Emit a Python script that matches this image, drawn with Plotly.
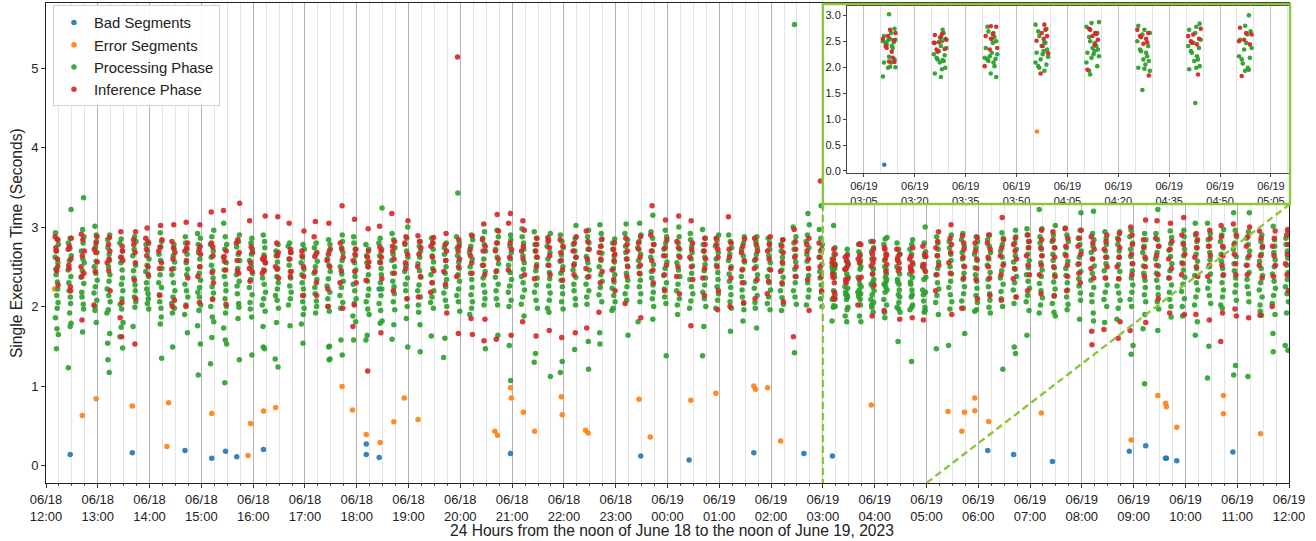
import plotly.graph_objects as go
import pandas as pd

# ---------------- data ----------------
SLOT_START = "2023-06-18 12:12:30"   # centre of the first 15-minute batch
SLOT_MINUTES = 15
# spread of each batch around its centre, in minutes (cycled)
JITTER_MIN = [-1.6, 0.7, -0.4, 1.5, -1.1, 0.2, 1.0, -1.9, 0.5, -0.8, 1.8, -0.1, 1.3]

# Processing phase times (s), one list per 15-minute batch (96 batches)
PROCESSING = [
    [2.93, 2.85, 2.78, 2.7, 2.62, 2.55, 2.47, 2.4, 2.31, 2.22, 2.14, 2.05, 1.98, 1.86, 1.72, 1.65, 1.47],
    [3.22, 2.86, 2.8, 2.73, 2.64, 2.58, 2.46, 2.38, 2.3, 2.2, 2.12, 2.04, 1.92, 1.79, 1.75, 1.23],
    [3.37, 2.97, 2.88, 2.8, 2.7, 2.6, 2.55, 2.45, 2.37, 2.29, 2.18, 2.12, 2.03, 1.97, 1.68],
    [3.01, 2.9, 2.82, 2.75, 2.68, 2.57, 2.5, 2.42, 2.33, 2.25, 2.17, 2.08, 2.0, 1.95, 1.8],
    [2.9, 2.84, 2.74, 2.66, 2.58, 2.5, 2.4, 2.32, 2.22, 2.14, 2.06, 1.96, 1.92, 1.66, 1.54, 1.33, 1.17],
    [2.85, 2.8, 2.7, 2.62, 2.55, 2.46, 2.36, 2.28, 2.2, 2.1, 2.03, 1.97, 1.8, 1.74, 1.62, 1.48],
    [2.88, 2.82, 2.72, 2.64, 2.52, 2.45, 2.36, 2.27, 2.2, 2.12, 2.06, 1.99, 1.75],
    [2.82, 2.78, 2.7, 2.6, 2.52, 2.44, 2.38, 2.3, 2.22, 2.16, 2.1, 2.04, 1.97],
    [2.93, 2.82, 2.75, 2.66, 2.58, 2.48, 2.4, 2.3, 2.24, 2.15, 2.06, 1.98, 1.87, 1.78, 1.35],
    [2.78, 2.72, 2.64, 2.56, 2.48, 2.4, 2.3, 2.2, 2.12, 2.04, 1.98, 1.92, 1.49],
    [2.88, 2.8, 2.72, 2.66, 2.55, 2.47, 2.4, 2.28, 2.2, 2.12, 2.02, 1.9, 1.67],
    [2.92, 2.86, 2.78, 2.68, 2.6, 2.5, 2.42, 2.33, 2.24, 2.18, 2.12, 2.02, 1.95, 1.76, 1.53, 1.14],
    [2.96, 2.88, 2.78, 2.7, 2.62, 2.52, 2.45, 2.36, 2.25, 2.17, 2.1, 2.0, 1.87, 1.81, 1.61, 1.28],
    [3.05, 2.88, 2.78, 2.72, 2.62, 2.55, 2.46, 2.38, 2.28, 2.2, 2.1, 2.0, 1.92, 1.73, 1.58, 1.53, 1.04],
    [2.9, 2.82, 2.75, 2.66, 2.58, 2.48, 2.4, 2.32, 2.26, 2.16, 2.04, 1.99, 1.85, 1.33],
    [2.86, 2.8, 2.72, 2.66, 2.58, 2.5, 2.42, 2.34, 2.24, 2.15, 2.05, 1.97, 1.87, 1.39],
    [2.9, 2.82, 2.74, 2.65, 2.55, 2.45, 2.36, 2.28, 2.18, 2.1, 2.02, 1.94, 1.75, 1.49, 1.47],
    [2.78, 2.7, 2.64, 2.56, 2.48, 2.38, 2.3, 2.22, 2.14, 2.08, 1.98, 1.8, 1.34, 1.24],
    [2.8, 2.76, 2.68, 2.6, 2.52, 2.44, 2.36, 2.26, 2.18, 2.1, 2.02, 1.76],
    [2.78, 2.72, 2.62, 2.55, 2.47, 2.4, 2.3, 2.22, 2.14, 2.06, 1.98, 1.9, 1.78, 1.54],
    [2.8, 2.74, 2.66, 2.57, 2.5, 2.42, 2.34, 2.24, 2.16, 2.07, 2.0, 1.92],
    [2.84, 2.78, 2.7, 2.6, 2.52, 2.44, 2.35, 2.26, 2.18, 2.1, 2.0, 1.94, 1.5, 1.49, 1.34, 1.33],
    [2.9, 2.82, 2.74, 2.68, 2.58, 2.5, 2.41, 2.32, 2.24, 2.14, 2.05, 1.98, 1.58, 1.39],
    [2.88, 2.8, 2.72, 2.64, 2.55, 2.46, 2.38, 2.28, 2.2, 2.1, 2.04, 1.88, 1.81, 1.58],
    [2.78, 2.72, 2.64, 2.55, 2.5, 2.4, 2.32, 2.22, 2.14, 2.06, 1.97, 1.9, 1.64, 1.58],
    [3.24, 2.86, 2.8, 2.72, 2.64, 2.56, 2.48, 2.4, 2.3, 2.22, 2.14, 2.04, 1.95, 1.82, 1.79],
    [2.92, 2.84, 2.74, 2.66, 2.58, 2.5, 2.42, 2.32, 2.25, 2.16, 2.06, 1.96, 1.77, 1.59],
    [3.0, 2.86, 2.78, 2.7, 2.62, 2.52, 2.44, 2.36, 2.28, 2.2, 2.1, 2.0, 1.85, 1.49],
    [2.82, 2.76, 2.7, 2.62, 2.54, 2.45, 2.37, 2.27, 2.2, 2.12, 2.02, 1.93, 1.77, 1.43],
    [2.86, 2.8, 2.72, 2.64, 2.56, 2.48, 2.4, 2.3, 2.2, 2.12, 2.05, 1.98, 1.63],
    [2.8, 2.74, 2.66, 2.58, 2.5, 2.42, 2.34, 2.25, 2.17, 2.08, 2.0, 1.6, 1.36],
    [3.43, 2.88, 2.8, 2.74, 2.64, 2.56, 2.48, 2.4, 2.32, 2.22, 2.14, 2.06, 1.94],
    [2.9, 2.84, 2.76, 2.68, 2.6, 2.5, 2.42, 2.34, 2.24, 2.15, 2.06, 1.98, 1.9],
    [2.94, 2.86, 2.78, 2.7, 2.6, 2.52, 2.44, 2.36, 2.27, 2.18, 2.1, 2.02, 1.47],
    [2.96, 2.88, 2.8, 2.72, 2.62, 2.54, 2.45, 2.37, 2.28, 2.2, 2.1, 2.02, 1.64],
    [2.9, 2.84, 2.76, 2.68, 2.6, 2.52, 2.43, 2.34, 2.26, 2.18, 2.08, 2.0, 1.51, 1.07],
    [2.98, 2.88, 2.8, 2.72, 2.64, 2.55, 2.47, 2.38, 2.3, 2.21, 2.12, 2.03, 1.88],
    [2.94, 2.86, 2.78, 2.7, 2.62, 2.53, 2.45, 2.36, 2.27, 2.18, 2.08, 1.98, 1.41, 1.3],
    [2.92, 2.84, 2.76, 2.68, 2.6, 2.52, 2.43, 2.35, 2.26, 2.17, 2.08, 1.98, 1.93, 1.12],
    [2.9, 2.82, 2.74, 2.65, 2.57, 2.5, 2.42, 2.33, 2.25, 2.16, 2.06, 1.97, 1.31, 1.17],
    [3.02, 2.86, 2.78, 2.7, 2.62, 2.54, 2.46, 2.37, 2.28, 2.2, 2.1, 2.02, 1.46],
    [2.96, 2.88, 2.8, 2.72, 2.63, 2.55, 2.46, 2.37, 2.28, 2.2, 2.12, 2.03, 1.56, 1.21],
    [3.03, 2.92, 2.84, 2.76, 2.67, 2.58, 2.5, 2.4, 2.32, 2.24, 2.15, 2.06, 1.67, 1.53],
    [2.85, 2.8, 2.72, 2.64, 2.56, 2.48, 2.4, 2.31, 2.23, 2.14, 2.06, 1.98, 1.95],
    [3.04, 2.92, 2.84, 2.76, 2.68, 2.6, 2.51, 2.42, 2.33, 2.25, 2.16, 2.08, 1.64],
    [3.05, 2.9, 2.82, 2.74, 2.66, 2.58, 2.5, 2.41, 2.33, 2.25, 2.16, 2.06, 1.81],
    [3.15, 2.94, 2.86, 2.78, 2.7, 2.62, 2.53, 2.44, 2.36, 2.27, 2.18, 2.1, 2.0, 1.84],
    [2.96, 2.88, 2.8, 2.72, 2.64, 2.56, 2.48, 2.39, 2.3, 2.22, 2.12, 2.04, 1.38],
    [3.0, 2.88, 2.8, 2.72, 2.64, 2.55, 2.46, 2.38, 2.28, 2.2, 2.1, 2.02, 1.9],
    [2.92, 2.84, 2.76, 2.68, 2.6, 2.51, 2.42, 2.34, 2.25, 2.16, 2.07, 1.98],
    [2.97, 2.86, 2.78, 2.7, 2.62, 2.53, 2.45, 2.36, 2.27, 2.18, 2.1, 2.0, 1.75, 1.38],
    [2.9, 2.84, 2.76, 2.68, 2.6, 2.52, 2.43, 2.34, 2.25, 2.16, 2.08, 1.98],
    [2.9, 2.82, 2.74, 2.66, 2.58, 2.5, 2.41, 2.32, 2.24, 2.15, 2.06, 1.98, 1.69],
    [2.88, 2.8, 2.72, 2.64, 2.56, 2.47, 2.38, 2.3, 2.21, 2.12, 2.04, 1.96, 1.82],
    [2.88, 2.82, 2.74, 2.66, 2.58, 2.5, 2.4, 2.32, 2.23, 2.14, 2.05, 1.98, 1.73],
    [2.86, 2.8, 2.72, 2.64, 2.55, 2.47, 2.38, 2.3, 2.21, 2.12, 2.04, 1.96],
    [2.84, 2.78, 2.7, 2.62, 2.54, 2.46, 2.37, 2.28, 2.2, 2.11, 2.03, 1.95],
    [5.55, 3.0, 2.88, 2.8, 2.72, 2.64, 2.56, 2.47, 2.38, 2.3, 2.2, 2.12, 2.03, 1.42],
    [3.17, 3.03, 2.9, 2.82, 2.74, 2.66, 2.57, 2.48, 2.39, 2.3, 2.21, 2.12, 2.02],
    [3.27, 2.97, 2.86, 2.78, 2.7, 2.62, 2.53, 2.44, 2.36, 2.27, 2.18, 2.1, 2.0],
    [3.02, 2.74, 2.66, 2.6, 2.55, 2.53, 2.52, 2.5, 2.48, 2.47, 2.44, 2.41, 2.37, 2.2, 2.15, 2.09, 2.09, 2.01, 2.0, 1.99, 1.82],
    [2.72, 2.66, 2.57, 2.55, 2.5, 2.47, 2.41, 2.37, 2.31, 2.25, 2.23, 2.18, 2.15, 2.14, 2.12, 2.09, 1.99, 1.96, 1.88, 1.81],
    [2.78, 2.69, 2.66, 2.58, 2.55, 2.5, 2.47, 2.37, 2.28, 2.25, 2.21, 2.18, 2.16, 2.15, 2.12, 2.09, 2.02, 1.88, 1.81],
    [2.82, 2.74, 2.69, 2.6, 2.48, 2.47, 2.41, 2.34, 2.31, 2.28, 2.25, 2.2, 2.15, 2.09, 2.05, 2.02, 1.99, 1.93],
    [2.87, 2.85, 2.78, 2.66, 2.58, 2.5, 2.47, 2.41, 2.37, 2.34, 2.31, 2.28, 2.25, 2.21, 2.18, 2.09, 2.02, 1.93, 1.86],
    [2.8, 2.72, 2.66, 2.63, 2.5, 2.41, 2.34, 2.31, 2.28, 2.21, 2.15, 2.12, 2.05, 1.99, 1.97, 1.93, 1.56],
    [2.84, 2.78, 2.72, 2.66, 2.53, 2.47, 2.41, 2.37, 2.31, 2.28, 2.21, 2.15, 2.12, 2.02, 1.99, 1.96, 1.31],
    [3.0, 2.8, 2.69, 2.63, 2.53, 2.47, 2.37, 2.34, 2.21, 2.18, 2.15, 2.07, 1.99, 1.95, 1.93],
    [2.88, 2.8, 2.72, 2.64, 2.56, 2.48, 2.4, 2.3, 2.22, 2.14, 2.05, 1.9, 1.47],
    [2.9, 2.82, 2.74, 2.66, 2.58, 2.5, 2.41, 2.32, 2.24, 2.15, 2.06, 1.97, 1.51],
    [2.92, 2.84, 2.76, 2.68, 2.6, 2.51, 2.42, 2.34, 2.25, 2.16, 2.07, 1.98, 1.66],
    [2.88, 2.82, 2.74, 2.66, 2.58, 2.49, 2.4, 2.32, 2.23, 2.14, 2.05, 1.96, 1.94],
    [2.9, 2.84, 2.76, 2.68, 2.6, 2.52, 2.43, 2.34, 2.25, 2.16, 2.08, 1.99, 1.92],
    [2.93, 2.86, 2.78, 2.7, 2.62, 2.54, 2.45, 2.36, 2.28, 2.19, 2.1, 2.0, 1.21],
    [2.96, 2.88, 2.8, 2.72, 2.64, 2.56, 2.47, 2.38, 2.3, 2.21, 2.12, 2.04, 1.49, 1.41],
    [2.98, 2.9, 2.82, 2.74, 2.66, 2.58, 2.49, 2.4, 2.32, 2.23, 2.14, 2.06, 1.95, 1.64],
    [3.22, 2.98, 2.88, 2.8, 2.72, 2.64, 2.55, 2.46, 2.38, 2.29, 2.2, 2.11, 2.02, 1.92],
    [3.02, 2.9, 2.82, 2.74, 2.66, 2.58, 2.49, 2.4, 2.31, 2.22, 2.13, 2.04, 1.93, 1.88],
    [2.99, 2.9, 2.82, 2.74, 2.66, 2.57, 2.48, 2.39, 2.3, 2.21, 2.12, 2.03, 1.96],
    [3.18, 2.96, 2.86, 2.78, 2.7, 2.62, 2.53, 2.44, 2.35, 2.26, 2.17, 2.08, 1.84],
    [3.2, 2.92, 2.84, 2.76, 2.68, 2.6, 2.51, 2.42, 2.33, 2.24, 2.15, 2.06, 1.92, 1.82],
    [2.94, 2.86, 2.78, 2.7, 2.62, 2.54, 2.45, 2.36, 2.27, 2.18, 2.09, 2.0, 1.8],
    [2.94, 2.86, 2.78, 2.7, 2.62, 2.53, 2.44, 2.35, 2.26, 2.17, 2.08, 1.98, 1.84],
    [2.96, 2.88, 2.8, 2.72, 2.63, 2.54, 2.45, 2.36, 2.27, 2.18, 2.09, 2.0, 1.51, 1.4],
    [2.92, 2.84, 2.76, 2.68, 2.6, 2.51, 2.42, 2.33, 2.24, 2.15, 2.06, 1.9, 1.72, 1.03],
    [3.22, 2.92, 2.84, 2.76, 2.68, 2.6, 2.51, 2.42, 2.33, 2.24, 2.15, 2.06, 1.97, 1.7],
    [2.95, 2.87, 2.79, 2.71, 2.63, 2.54, 2.45, 2.36, 2.27, 2.18, 2.09, 2.0, 1.87],
    [2.96, 2.88, 2.8, 2.72, 2.64, 2.55, 2.46, 2.37, 2.28, 2.19, 2.1, 2.0, 1.88],
    [3.05, 2.9, 2.82, 2.74, 2.66, 2.57, 2.48, 2.39, 2.3, 2.21, 2.12, 2.02, 1.81, 1.64],
    [3.05, 2.92, 2.84, 2.76, 2.68, 2.59, 2.5, 2.41, 2.32, 2.23, 2.14, 2.04, 1.5, 1.1],
    [2.97, 2.9, 2.82, 2.74, 2.66, 2.57, 2.48, 2.39, 2.3, 2.21, 2.12, 2.02, 1.98],
    [3.18, 2.96, 2.88, 2.8, 2.72, 2.63, 2.54, 2.45, 2.36, 2.27, 2.18, 2.08, 1.26, 1.14],
    [3.18, 2.94, 2.86, 2.78, 2.7, 2.61, 2.52, 2.43, 2.34, 2.25, 2.16, 2.06, 1.12],
    [2.9, 2.82, 2.74, 2.66, 2.57, 2.48, 2.39, 2.3, 2.21, 2.12, 2.02, 1.94, 1.89],
    [3.01, 2.84, 2.76, 2.68, 2.59, 2.5, 2.41, 2.32, 2.23, 2.14, 2.04, 1.9, 1.66, 1.43],
    [2.94, 2.86, 2.78, 2.7, 2.61, 2.52, 2.43, 2.34, 2.25, 2.16, 2.06, 1.92, 1.51, 1.45],
]

# Inference phase times (s), one list per 15-minute batch (96 batches)
INFERENCE = [
    [2.88, 2.84, 2.74, 2.7, 2.6, 2.5, 2.45, 2.27],
    [2.86, 2.76, 2.72, 2.6, 2.52, 2.48, 2.25, 2.2],
    [2.91, 2.84, 2.7, 2.64, 2.5, 2.42, 2.38, 1.83],
    [2.88, 2.8, 2.72, 2.68, 2.56, 2.44, 2.02],
    [2.87, 2.78, 2.7, 2.6, 2.55, 2.45, 2.2],
    [2.94, 2.76, 2.7, 2.62, 2.58, 2.05, 1.86, 1.62],
    [2.94, 2.84, 2.78, 2.68, 2.55, 2.33, 2.1, 1.53],
    [2.99, 2.86, 2.8, 2.72, 2.64, 2.5, 2.4],
    [3.02, 2.84, 2.75, 2.7, 2.55, 2.48, 2.14],
    [3.03, 2.82, 2.74, 2.68, 2.6, 2.47, 2.08, 2.0],
    [3.06, 2.8, 2.74, 2.7, 2.58, 2.36, 2.0],
    [3.03, 2.76, 2.72, 2.66, 2.5, 2.38, 2.05],
    [3.19, 2.8, 2.75, 2.64, 2.43, 2.3, 2.09],
    [3.21, 2.7, 2.63, 2.57, 2.46, 2.03],
    [3.3, 2.84, 2.8, 2.68, 2.58, 2.45, 2.42],
    [3.08, 2.75, 2.68, 2.55, 2.48, 2.44, 2.32],
    [3.14, 2.62, 2.6, 2.58, 2.55, 2.46, 2.42],
    [3.13, 2.8, 2.68, 2.64, 2.5, 2.47, 2.36],
    [3.05, 2.72, 2.68, 2.6, 2.44, 2.38],
    [2.95, 2.7, 2.64, 2.5, 2.38, 2.14],
    [3.07, 2.88, 2.68, 2.63, 2.44, 2.3, 2.14],
    [3.05, 2.72, 2.66, 2.58, 2.5, 2.22, 2.0],
    [3.27, 2.8, 2.72, 2.62, 2.45, 2.3, 1.98],
    [3.1, 2.72, 2.66, 2.58, 2.44, 2.3, 2.02, 1.75],
    [2.98, 2.7, 2.62, 2.56, 2.5, 2.33, 1.19],
    [3.01, 2.75, 2.7, 2.62, 2.55, 2.35, 1.67],
    [3.17, 2.82, 2.76, 2.7, 2.6, 2.42, 2.2],
    [3.08, 2.88, 2.8, 2.66, 2.55, 2.48, 2.1],
    [2.89, 2.82, 2.74, 2.66, 2.5, 2.38, 2.12],
    [2.87, 2.8, 2.76, 2.62, 2.45, 2.3, 2.18],
    [2.92, 2.78, 2.7, 2.58, 2.44, 2.28, 1.92],
    [5.14, 2.84, 2.76, 2.7, 2.6, 2.5, 2.38, 1.66],
    [2.89, 2.72, 2.64, 2.55, 2.42, 1.85, 1.65],
    [3.04, 2.84, 2.76, 2.7, 2.52, 2.4, 1.84, 1.57],
    [3.16, 2.95, 2.8, 2.7, 2.6, 2.44, 1.59],
    [3.17, 3.05, 2.8, 2.72, 2.62, 2.46, 1.64],
    [3.08, 2.96, 2.76, 2.7, 2.6, 2.4, 1.81],
    [2.86, 2.78, 2.7, 2.62, 2.5, 2.35, 1.63],
    [2.87, 2.82, 2.74, 2.64, 2.52, 2.4, 1.7],
    [2.84, 2.76, 2.68, 2.58, 2.46, 2.33, 1.61],
    [2.88, 2.8, 2.7, 2.62, 2.52, 2.4, 1.67],
    [2.95, 2.82, 2.72, 2.6, 2.48, 2.38, 1.73],
    [2.85, 2.76, 2.68, 2.6, 2.44, 2.3, 1.93],
    [2.8, 2.72, 2.66, 2.58, 2.46, 2.34, 2.2],
    [2.86, 2.78, 2.7, 2.6, 2.5, 2.38, 2.04],
    [2.88, 2.8, 2.72, 2.62, 2.52, 2.42, 1.86],
    [3.27, 2.9, 2.78, 2.7, 2.58, 2.46, 2.3],
    [3.09, 2.84, 2.74, 2.64, 2.52, 2.4, 2.2],
    [3.14, 2.82, 2.74, 2.62, 2.5, 2.38, 2.16],
    [3.08, 2.8, 2.72, 2.62, 2.5, 2.34, 1.76],
    [2.86, 2.78, 2.7, 2.6, 2.48, 2.36, 2.14],
    [2.86, 2.78, 2.72, 2.62, 2.5, 2.2, 1.96],
    [3.13, 2.8, 2.72, 2.62, 2.48, 2.36, 2.0],
    [2.85, 2.76, 2.68, 2.58, 2.46, 2.3, 2.05],
    [2.86, 2.78, 2.7, 2.6, 2.48, 2.34, 2.1],
    [2.88, 2.78, 2.7, 2.6, 2.46, 2.32, 2.16],
    [2.84, 2.76, 2.68, 2.56, 2.44, 2.3, 2.06],
    [2.97, 2.82, 2.72, 2.62, 2.5, 2.38, 1.62],
    [2.86, 2.78, 2.7, 2.6, 2.48, 2.34, 1.95],
    [3.58, 2.8, 2.72, 2.62, 2.5, 2.38, 2.2],
    [2.72, 2.66, 2.6, 2.55, 2.52, 2.41, 2.37, 2.3, 2.18, 2.11, 2.1],
    [2.64, 2.62, 2.58, 2.53, 2.48, 2.47, 2.35, 2.34, 2.3],
    [2.79, 2.78, 2.64, 2.6, 2.55, 2.37, 2.34, 2.02],
    [2.82, 2.72, 2.66, 2.6, 2.55, 2.51, 2.41, 2.27, 1.88],
    [2.74, 2.72, 2.66, 2.64, 2.6, 2.53, 2.44, 1.95],
    [2.72, 2.66, 2.6, 2.58, 2.55, 2.48, 2.45, 1.84],
    [2.74, 2.63, 2.6, 2.55, 2.5, 2.47, 2.44, 1.86],
    [2.76, 2.66, 2.63, 2.53, 2.5, 2.44, 1.83],
    [2.94, 2.82, 2.74, 2.64, 2.52, 2.4, 2.2],
    [3.03, 2.86, 2.78, 2.68, 2.55, 2.42, 1.9],
    [2.89, 2.8, 2.72, 2.62, 2.5, 2.36, 1.98],
    [2.87, 2.8, 2.7, 2.6, 2.48, 2.34, 2.1],
    [2.9, 2.8, 2.72, 2.62, 2.5, 2.36, 2.14],
    [3.12, 2.84, 2.74, 2.64, 2.52, 2.4, 2.08],
    [2.86, 2.78, 2.7, 2.6, 2.48, 2.35, 2.12],
    [2.9, 2.82, 2.74, 2.64, 2.52, 2.4, 2.2],
    [2.96, 2.84, 2.74, 2.64, 2.52, 2.4, 2.16],
    [2.94, 2.84, 2.74, 2.62, 2.5, 2.38, 2.14],
    [2.98, 2.86, 2.76, 2.64, 2.52, 2.38, 2.2],
    [2.96, 2.86, 2.76, 2.66, 2.54, 2.42, 2.3],
    [2.88, 2.8, 2.72, 2.6, 2.48, 2.36, 1.69, 1.52],
    [2.9, 2.82, 2.72, 2.62, 2.5, 2.36, 1.71],
    [2.92, 2.84, 2.74, 2.62, 2.5, 2.35, 1.81, 1.6],
    [3.0, 2.9, 2.78, 2.66, 2.54, 2.4, 1.7],
    [3.09, 2.84, 2.74, 2.62, 2.5, 2.38, 1.8],
    [3.08, 2.86, 2.76, 2.64, 2.52, 2.4, 2.1],
    [3.05, 2.82, 2.72, 2.6, 2.48, 2.36, 1.92],
    [3.12, 2.9, 2.78, 2.66, 2.54, 2.4, 1.9],
    [2.92, 2.84, 2.74, 2.62, 2.5, 2.38, 1.9],
    [2.96, 2.86, 2.76, 2.64, 2.52, 2.38, 1.83],
    [3.02, 2.88, 2.76, 2.64, 2.52, 2.4, 1.92, 1.56],
    [3.04, 2.9, 2.78, 2.66, 2.54, 2.4, 1.97, 1.88],
    [3.0, 2.88, 2.76, 2.64, 2.52, 2.4, 1.86],
    [2.95, 2.86, 2.76, 2.64, 2.52, 2.36, 1.89],
    [2.95, 2.86, 2.76, 2.64, 2.52, 2.38, 2.0],
    [2.97, 2.9, 2.78, 2.66, 2.54, 2.4, 2.2],
]

BAD_TIMES = ["06-18 12:28", "06-18 13:40", "06-18 14:41", "06-18 15:12", "06-18 15:28",
             "06-18 15:41", "06-18 16:12", "06-18 18:11", "06-18 18:11", "06-18 18:26",
             "06-18 18:26", "06-18 20:58", "06-18 23:29", "06-19 00:25", "06-19 01:40",
             "06-19 02:38", "06-19 03:11", "06-19 06:11", "06-19 06:41", "06-19 07:26",
             "06-19 08:55", "06-19 09:14", "06-19 09:37", "06-19 09:38", "06-19 09:50",
             "06-19 10:55"]
BAD_VALUES = [0.14, 0.16, 0.19, 0.09, 0.18, 0.11, 0.20, 0.27, 0.14, 0.10,
              2.22, 0.15, 0.12, 0.07, 0.16, 0.15, 0.12, 0.19, 0.14, 0.05,
              0.18, 0.25, 0.09, 0.09, 0.06, 0.17]

ERROR_TIMES = ["06-18 12:10", "06-18 12:42", "06-18 12:58", "06-18 13:40", "06-18 14:22",
               "06-18 14:20", "06-18 15:12", "06-18 15:57", "06-18 15:54", "06-18 16:12",
               "06-18 16:26", "06-18 17:43", "06-18 17:55", "06-18 18:11", "06-18 18:27",
               "06-18 18:43", "06-18 18:55", "06-18 19:11", "06-18 20:40", "06-18 20:43",
               "06-18 20:58", "06-18 20:59", "06-18 21:13", "06-18 21:26", "06-18 21:57",
               "06-18 21:58", "06-18 22:25", "06-18 22:28", "06-18 23:27", "06-18 23:40",
               "06-19 00:27", "06-19 00:56", "06-19 01:40", "06-19 01:42", "06-19 01:56",
               "06-19 02:11", "06-19 03:56", "06-19 05:25", "06-19 05:41", "06-19 05:44",
               "06-19 05:56", "06-19 05:56", "06-19 06:12", "06-19 07:13", "06-19 08:57",
               "06-19 09:28", "06-19 09:37", "06-19 09:38", "06-19 09:50", "06-19 10:44",
               "06-19 10:44", "06-19 11:27"]
ERROR_VALUES = [2.22, 0.63, 0.84, 0.75, 0.79, 0.24, 0.655, 0.53, 0.126, 0.685,
                0.73, 0.995, 0.70, 0.39, 0.29, 0.55, 0.85, 0.58, 0.43, 0.38,
                0.98, 0.85, 0.67, 0.43, 0.865, 0.64, 0.445, 0.41, 0.835, 0.36,
                0.82, 0.91, 1.0, 0.96, 0.98, 0.31, 0.76, 0.68, 0.43, 0.67,
                0.85, 0.69, 0.555, 0.66, 0.32, 0.88, 0.785, 0.74, 0.48, 0.88,
                0.65, 0.40]

SERIES_NAMES = ["Bad Segments", "Error Segments", "Processing Phase", "Inference Phase"]
COLORS = ["#1f77b4", "#ff7f0e", "#2ca02c", "#d62728"]

MAIN_RANGE = ["2023-06-18 12:00:00", "2023-06-19 12:00:00"]
INSET_RANGE = ["2023-06-19 03:00:00", "2023-06-19 05:10:20"]

X_TITLE = "24 Hours from the noon of June 18 to the noon of June 19, 2023"
Y_TITLE = "Single Execution Time (Seconds)"

# ---------------- build points ----------------
start = pd.Timestamp(SLOT_START)


def expand(groups, shift):
    xs, ys = [], []
    for k, vals in enumerate(groups):
        centre = start + pd.Timedelta(minutes=SLOT_MINUTES * k)
        for j, v in enumerate(vals):
            off = JITTER_MIN[(j * 5 + k * 3 + shift) % len(JITTER_MIN)]
            xs.append(centre + pd.Timedelta(minutes=off))
            ys.append(v)
    return xs, ys


def stamps(labels):
    return [pd.Timestamp("2023-" + s) for s in labels]


series = [
    (stamps(BAD_TIMES), BAD_VALUES),
    (stamps(ERROR_TIMES), ERROR_VALUES),
    expand(PROCESSING, 0),
    expand(INFERENCE, 7),
]

i0, i1 = pd.Timestamp(INSET_RANGE[0]), pd.Timestamp(INSET_RANGE[1])

FONT = "Liberation Sans, Arial, Helvetica, sans-serif"
fig = go.Figure()

for (xs, ys), name, col in zip(series, SERIES_NAMES, COLORS):
    fig.add_trace(go.Scatter(
        x=xs, y=ys, mode="markers", name=name, legendgroup=name,
        marker=dict(color=col, size=5.5, opacity=0.9, line=dict(width=0)),
        xaxis="x", yaxis="y"))

# empty frame subplot (white panel behind the inset)
fig.add_trace(go.Scatter(x=[], y=[], xaxis="x2", yaxis="y2", showlegend=False))

for (xs, ys), name, col in zip(series, SERIES_NAMES, COLORS):
    sx, sy = [], []
    for a, b in zip(xs, ys):
        if i0 <= a <= i1:
            sx.append(a)
            sy.append(b)
    fig.add_trace(go.Scatter(
        x=sx, y=sy, mode="markers", name=name, showlegend=False,
        marker=dict(color=col, size=4.6, opacity=0.95, line=dict(width=0)),
        xaxis="x3", yaxis="y3"))

# geometry (paper fractions of the main plot area)
FRAME = dict(x0=0.625, x1=1.0008, y0=0.58125, y1=0.998)
GREEN = "#8cc63f"

fig.update_layout(
    width=1316, height=541,
    margin=dict(l=46, r=27, t=3, b=58, autoexpand=False),
    paper_bgcolor="white", plot_bgcolor="white",
    font=dict(family=FONT, size=13, color="#222"),
    showlegend=True,
    legend=dict(x=0.0056, y=0.995, xanchor="left", yanchor="top",
                bgcolor="rgba(255,255,255,0.9)", bordercolor="#d0d0d0", borderwidth=1,
                font=dict(size=14.8, color="#222"), tracegroupgap=0,
                itemsizing="trace"),
    xaxis=dict(
        type="date", range=MAIN_RANGE, domain=[0, 1], automargin=False,
        tick0="2023-06-18 12:00", dtick=3600000, tickformat="%m/%d<br>%H:%M",
        ticks="outside", ticklen=4, tickcolor="#333",
        showgrid=True, gridcolor="#b4b4b4", gridwidth=1,
        minor=dict(dtick=900000, tick0="2023-06-18 12:00", ticks="outside", ticklen=2,
                   tickcolor="#555", showgrid=True, gridcolor="#e4e4e4", gridwidth=1),
        showline=True, linecolor="#222", linewidth=1, mirror=True,
        zeroline=False,
        tickfont=dict(size=13),
    ),
    yaxis=dict(
        range=[-0.22, 5.82], domain=[0, 1], tickvals=[0, 1, 2, 3, 4, 5], automargin=False,
        ticks="outside", ticklen=4, tickcolor="#333",
        showgrid=False, zeroline=False,
        showline=True, linecolor="#222", linewidth=1, mirror=True,
        tickfont=dict(size=13),
    ),
    xaxis2=dict(domain=[FRAME["x0"], 1.0], anchor="y2", visible=False, automargin=False,
                showgrid=False, zeroline=False, range=[0, 1]),
    yaxis2=dict(domain=[FRAME["y0"], FRAME["y1"]], anchor="x2", visible=False, automargin=False,
                showgrid=False, zeroline=False, range=[0, 1]),
    xaxis3=dict(
        type="date", range=INSET_RANGE, domain=[0.6444, 1.0], anchor="y3", automargin=False,
        tick0="2023-06-19 03:05", dtick=900000, tickformat="%m/%d<br>%H:%M",
        ticks="outside", ticklen=3, tickcolor="#444",
        showgrid=True, gridcolor="#c4c4c4", gridwidth=1,
        minor=dict(dtick=300000, tick0="2023-06-19 03:00", showgrid=True,
                   gridcolor="#e2e2e2", gridwidth=1),
        showline=True, linecolor="#444", linewidth=1, mirror=True, zeroline=False,
        tickfont=dict(size=11),
    ),
    yaxis3=dict(
        range=[-0.04, 3.18], domain=[0.6458, 0.99375], anchor="x3", automargin=False,
        tickvals=[0, 0.5, 1, 1.5, 2, 2.5, 3], tickformat=".1f",
        ticks="outside", ticklen=3, tickcolor="#444",
        showgrid=False, zeroline=False,
        showline=True, linecolor="#444", linewidth=1, mirror=True,
        tickfont=dict(size=11),
    ),
    annotations=[
        dict(text=X_TITLE, xref="paper", yref="paper", x=0.5035, y=-0.098,
             xanchor="center", yanchor="middle", showarrow=False,
             font=dict(size=15.6, color="#222")),
        dict(text=Y_TITLE, xref="paper", yref="paper", x=-0.0241, y=0.5,
             xanchor="center", yanchor="middle", showarrow=False, textangle=-90,
             font=dict(size=15.6, color="#222")),
    ],
    shapes=[
        dict(type="rect", xref="paper", yref="paper", layer="above",
             x0=FRAME["x0"], x1=FRAME["x1"], y0=FRAME["y0"], y1=FRAME["y1"],
             line=dict(color=GREEN, width=2.4), fillcolor="rgba(0,0,0,0)"),
        dict(type="line", xref="paper", yref="paper", layer="above",
             x0=FRAME["x0"], y0=FRAME["y0"], x1=15 / 24, y1=0,
             line=dict(color=GREEN, width=2.4, dash="7px,4px")),
        dict(type="line", xref="paper", yref="paper", layer="above",
             x0=FRAME["x1"], y0=FRAME["y0"], x1=17 / 24, y1=0,
             line=dict(color=GREEN, width=2.4, dash="7px,4px")),
    ],
)

# the page's default 8px body margin would shift and crop the figure
fig.write_html("out.html",
               config={"displayModeBar": False},
               post_script="document.body.style.margin='0px';"
                           "document.body.style.overflow='hidden';")
